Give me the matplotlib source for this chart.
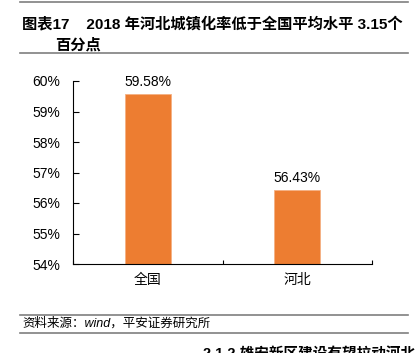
import matplotlib
matplotlib.use("Agg")
import matplotlib.pyplot as plt
from matplotlib.lines import Line2D

plt.rcParams['font.family'] = ['Liberation Sans', 'Noto Sans CJK SC', 'DejaVu Sans']

# data
regions = ['全国', '河北']
rates = [59.58, 56.43]
yticks = [54, 55, 56, 57, 58, 59, 60]
title_1 = '图表17    2018 年河北城镇化率低于全国平均水平 3.15个'
title_2 = '百分点'
source = '资料来源：wind，平安证券研究所'
next_heading = '2.1.2 雄安新区建设有望拉动河北'

W, H = 416, 353
fig = plt.figure(figsize=(W / 100, H / 100), dpi=100)

def fx(px):
    return px / W

def fy(py):
    return 1 - py / H

ax = fig.add_axes([fx(73), fy(264), fx(372) - fx(73), fy(81) - fy(264)])

x = range(len(regions))
ax.bar(x, rates, width=0.31, color='#ED7D31', edgecolor='#F4B183', linewidth=0.6, bottom=0)
ax.set_ylim(54, 60)
ax.set_xlim(-0.5, len(regions) - 0.5)
for xi, v in zip(x, rates):
    ax.text(xi, v + 0.17, '%.2f%%' % v, ha='center', va='bottom', fontsize=10)

ax.set_yticks(yticks)
ax.set_yticklabels(['%d%%' % t for t in yticks], fontsize=10)
ax.tick_params(axis='y', direction='in', length=4, width=0.8, pad=9)

# x ticks between categories, labels at centres
ax.set_xticks([-0.5, 0.5, 1.5])
ax.set_xticklabels([])
ax.tick_params(axis='x', direction='in', length=3, width=0.8)
for xi, name in zip(x, regions):
    ax.text(xi, 54 - 0.3, name, ha='center', va='top', fontsize=10,
            family=['Noto Sans CJK SC'])

for s in ['top', 'right']:
    ax.spines[s].set_visible(False)
for s in ['left', 'bottom']:
    ax.spines[s].set_linewidth(0.8)

# header and footer rules
rule = dict(color='#7f7f7f', linewidth=1.2, transform=fig.transFigure)
for py in [2, 53, 315, 333]:
    fig.add_artist(Line2D([fx(20), fx(408)], [fy(py), fy(py)], **rule))

fig.text(fx(22), fy(24), title_1, fontsize=11, fontweight='bold', va='center',
         family=['Liberation Sans', 'Noto Sans CJK SC'])
fig.text(fx(55), fy(45), title_2, fontsize=11, fontweight='bold', va='center',
         family=['Noto Sans CJK SC'])
fig.text(fx(22), fy(323), source, fontsize=9, style='italic', va='center',
         family=['Liberation Sans', 'Noto Sans CJK SC'])
fig.text(fx(203), fy(348), next_heading, fontsize=10.5, fontweight='bold', va='top',
         family=['Liberation Sans', 'Noto Sans CJK SC'])

fig.savefig('out.png', dpi=100)
